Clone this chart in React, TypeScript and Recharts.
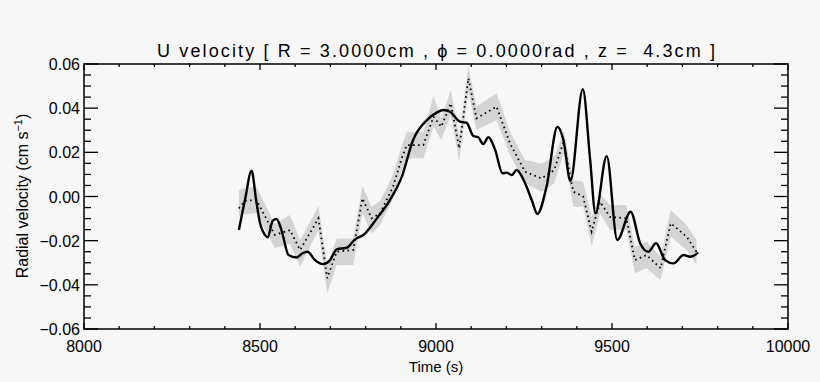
import React from 'react';
import { ComposedChart, Line, Area, XAxis, YAxis, ReferenceArea } from 'recharts';

// solid curve (single realisation)
const solidT = [8440, 8458, 8476, 8489, 8500, 8514, 8522, 8536, 8547, 8561, 8581, 8604, 8621, 8635, 8656, 8680, 8699, 8718, 8746, 8770, 8794, 8832, 8869, 8903, 8935, 8974, 9002, 9021, 9040, 9068, 9087, 9106, 9120, 9134, 9149, 9168, 9189, 9201, 9215, 9229, 9253, 9272, 9288, 9314, 9345, 9362, 9382, 9417, 9438, 9453, 9485, 9515, 9553, 9580, 9603, 9625, 9651, 9675, 9703, 9722, 9745];
const solidV = [-0.0152, -0.001, 0.0117, -0.0016, -0.0121, -0.0174, -0.0185, -0.011, -0.0102, -0.0152, -0.0265, -0.0276, -0.0257, -0.025, -0.0288, -0.0306, -0.0288, -0.0239, -0.0232, -0.0194, -0.0174, -0.0099, -0.0016, 0.009, 0.0256, 0.0346, 0.038, 0.0392, 0.0384, 0.0339, 0.0334, 0.0274, 0.0268, 0.0238, 0.0268, 0.0211, 0.0105, 0.0108, 0.0097, 0.012, 0.006, -0.0016, -0.0079, 0.0044, 0.0316, 0.0256, 0.007, 0.0486, 0.0165, -0.0076, 0.0183, -0.0197, -0.0069, -0.0212, -0.025, -0.0212, -0.0288, -0.0303, -0.0265, -0.0273, -0.0254];

// dotted mean and grey spread
const meanT = [8440, 8457, 8490, 8542, 8585, 8614, 8666, 8691, 8718, 8765, 8791, 8817, 8841, 8878, 8903, 8917, 8964, 8993, 9015, 9042, 9066, 9092, 9115, 9172, 9210, 9253, 9300, 9336, 9363, 9383, 9390, 9418, 9442, 9466, 9494, 9541, 9565, 9598, 9638, 9667, 9712, 9740];
const meanV = [-0.0054, -0.0019, -0.0016, -0.0174, -0.0152, -0.0242, -0.0099, -0.037, -0.025, -0.0242, -0.0008, -0.0099, -0.0076, 0.0044, 0.0175, 0.0233, 0.0233, 0.0361, 0.0316, 0.0422, 0.0218, 0.0535, 0.0354, 0.0407, 0.0241, 0.0112, 0.0082, 0.012, 0.025, 0.0075, 0.0022, 0.0, -0.0159, -0.0024, -0.0092, -0.0099, -0.0288, -0.0265, -0.0325, -0.0121, -0.0182, -0.025];
const bandLo = [-0.009, -0.008, -0.0076, -0.0233, -0.0215, -0.0318, -0.0152, -0.0438, -0.031, -0.031, -0.0076, -0.0167, -0.013, -0.001, 0.012, 0.0173, 0.0173, 0.0316, 0.0256, 0.0369, 0.0158, 0.0475, 0.0301, 0.0346, 0.0188, 0.006, 0.0022, 0.006, 0.0196, 0.002, -0.0046, -0.0046, -0.0227, -0.0076, -0.0152, -0.0152, -0.0348, -0.0325, -0.0378, -0.0182, -0.0242, -0.031];
const bandHi = [0.003, 0.004, 0.0044, -0.0125, -0.0084, -0.0197, -0.0043, -0.031, -0.019, -0.019, 0.0048, -0.0046, -0.002, 0.01, 0.023, 0.0293, 0.0293, 0.0455, 0.0354, 0.0482, 0.0279, 0.0588, 0.0407, 0.0467, 0.0293, 0.0165, 0.015, 0.018, 0.0293, 0.013, 0.0075, 0.0067, -0.0092, 0.0014, -0.0038, -0.0038, -0.0227, -0.0205, -0.0273, -0.0061, -0.0129, -0.0197];

const xMajor = [8000, 8500, 9000, 9500, 10000];
const xMajorLabels = ['8000', '8500', '9000', '9500', '10000'];
const yMajor = [-0.06, -0.04, -0.02, 0, 0.02, 0.04, 0.06];
const yMajorLabels = ['\u22120.06', '\u22120.04', '\u22120.02', '0.00', '0.02', '0.04', '0.06'];

const xTicks = Array.from({ length: 21 }, (_, i) => 8000 + i * 100);
const yTicks = Array.from({ length: 25 }, (_, i) => +(-0.06 + i * 0.005).toFixed(3));

const solidData = solidT.map((t, i) => ({ t, v: solidV[i] }));
const meanData = meanT.map((t, i) => ({ t, v: meanV[i] }));
const bandData = meanT.map((t, i) => ({ t, range: [bandLo[i], bandHi[i]] }));

const PLOT_W = 704;
const PLOT_H = 265;
const FONT = '"Liberation Sans", Arial, sans-serif';

const XTick = (props: any) => {
  const { x, y, payload } = props;
  const idx = xMajor.indexOf(payload.value);
  const len = idx >= 0 ? 6 : 3;
  return (
    <g>
      <line x1={x} x2={x} y1={y} y2={y - len} stroke="#000" strokeWidth={1.3} />
      <line x1={x} x2={x} y1={y - PLOT_H} y2={y - PLOT_H + len} stroke="#000" strokeWidth={1.3} />
      {idx >= 0 && (
        <text x={x} y={y + 23} textAnchor="middle" fontSize={16} fontFamily={FONT} fill="#000">
          {xMajorLabels[idx]}
        </text>
      )}
    </g>
  );
};

const YTick = (props: any) => {
  const { x, y, payload } = props;
  const idx = yMajor.findIndex((m) => Math.abs(m - payload.value) < 1e-6);
  const len = idx >= 0 ? 14 : 7;
  return (
    <g>
      <line x1={x} x2={x + len} y1={y} y2={y} stroke="#000" strokeWidth={1.3} />
      <line x1={x + PLOT_W} x2={x + PLOT_W - len} y1={y} y2={y} stroke="#000" strokeWidth={1.3} />
      {idx >= 0 && (
        <text x={x - 4} y={y + 6} textAnchor="end" fontSize={16} fontFamily={FONT} fill="#000">
          {yMajorLabels[idx]}
        </text>
      )}
    </g>
  );
};

export default function App() {
  return (
    <div style={{ position: 'absolute', left: 0, top: 0, width: 820, height: 382, background: '#f7f7f7' }}>
      <ComposedChart width={820} height={382} margin={{ top: 64, right: 32, bottom: 23, left: 0 }}>
        <XAxis
          type="number"
          dataKey="t"
          domain={[8000, 10000]}
          ticks={xTicks}
          interval={0}
          allowDataOverflow
          axisLine={false}
          tickLine={false}
          tickSize={0}
          tickMargin={0}
          height={30}
          tick={<XTick />}
        />
        <YAxis
          type="number"
          domain={[-0.06, 0.06]}
          ticks={yTicks}
          interval={0}
          allowDataOverflow
          axisLine={false}
          tickLine={false}
          tickSize={0}
          tickMargin={0}
          width={84}
          tick={<YTick />}
        />
        <Area
          data={bandData}
          dataKey="range"
          type="linear"
          stroke="none"
          fill="#d4d4d4"
          fillOpacity={1}
          isAnimationActive={false}
        />
        <Line
          data={meanData}
          dataKey="v"
          type="linear"
          stroke="#000"
          strokeWidth={1.8}
          strokeDasharray="1.6 3.4"
          dot={false}
          isAnimationActive={false}
        />
        <Line
          data={solidData}
          dataKey="v"
          type="monotone"
          stroke="#000"
          strokeWidth={2.4}
          dot={false}
          isAnimationActive={false}
        />
        <ReferenceArea x1={8000} x2={10000} y1={-0.06} y2={0.06} fill="none" stroke="#000" strokeWidth={1.5} />
      </ComposedChart>
      <svg width={820} height={382} style={{ position: 'absolute', left: 0, top: 0, pointerEvents: 'none' }}>
        <text x={436} y={57} textAnchor="middle" fontSize={18} fontFamily={FONT} fill="#000" xmlSpace="preserve" textLength={558} lengthAdjust="spacing">
          {'U velocity [ R = 3.0000cm , \u03d5 = 0.0000rad , z =  4.3cm ]'}
        </text>
        <text x={436} y={372} textAnchor="middle" fontSize={15} fontFamily={FONT} fill="#000">
          Time (s)
        </text>
        <text x={28} y={196} textAnchor="middle" fontSize={16} fontFamily={FONT} fill="#000" transform="rotate(-90 28 196)">
          Radial velocity (cm s<tspan dy={-6} fontSize={11}>{'\u22121'}</tspan><tspan dy={6}>)</tspan>
        </text>
      </svg>
    </div>
  );
}
